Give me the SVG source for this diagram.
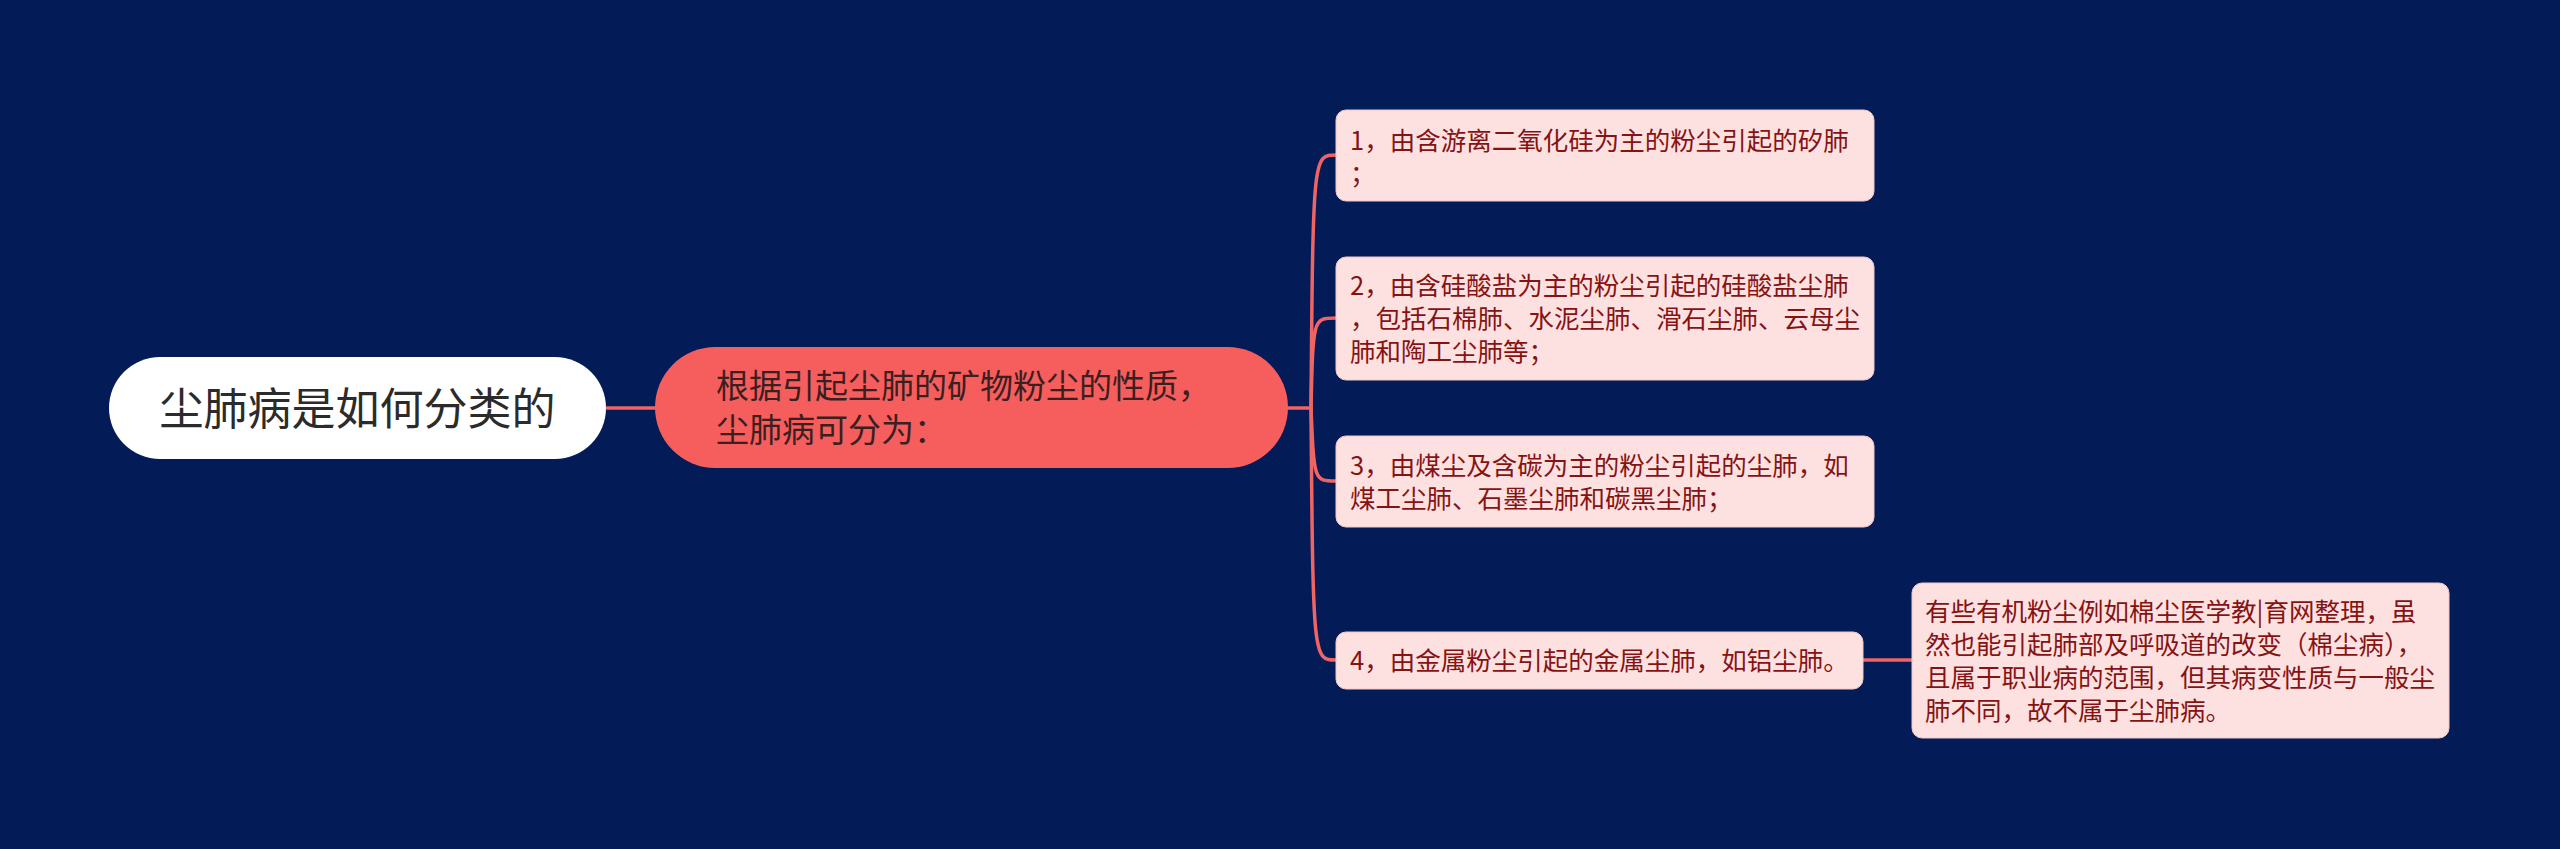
<svg xmlns="http://www.w3.org/2000/svg" width="2560" height="849" viewBox="0 0 2560 849">
<style>
text{font-family:"Noto Sans CJK SC","Noto Sans",sans-serif}
.root{fill:#ffffff}
.main{fill:#F65D5D}
.leaf{fill:#FDE1E1;stroke:#F2C8C8;stroke-width:1}
.rt{font-size:44px;fill:#2b2b2b}
.mt{font-size:33px;fill:#3a2020}
.lt{font-size:25.5px;fill:#861313}
.conn{fill:none;stroke:#F06464;stroke-width:3.5;stroke-linecap:round}
</style>
<rect width="2560" height="849" fill="#031B57"/>
<g id="connectors">
<path class="conn" d="M607 408 L655 408"/>
<path class="conn" d="M1288 408 L1311 408"/>
<path class="conn" d="M1311 408 C1313 155,1313 155,1336 155"/>
<path class="conn" d="M1311 408 C1313 318,1313 318,1336 318"/>
<path class="conn" d="M1311 408 C1314 481,1314 481,1336 481"/>
<path class="conn" d="M1311 408 C1313 660,1313 660,1336 660"/>
<path class="conn" d="M1863 660 L1912 660"/>
</g>
<g id="node-root">
<rect class="root" x="109" y="357" width="497" height="102" rx="51"/>
<text class="rt" x="357.5" y="425" text-anchor="middle">尘肺病是如何分类的</text>
</g>
<g id="node-main">
<rect class="main" x="655" y="347" width="633" height="121" rx="60.5"/>
<text class="mt" x="716" y="398">根据引起尘肺的矿物粉尘的性质，</text>
<text class="mt" x="716" y="442">尘肺病可分为：</text>
</g>
<g id="node-c1">
<rect class="leaf" x="1336" y="110" width="538" height="91" rx="10"/>
<text class="lt" x="1350" y="150">1，由含游离二氧化硅为主的粉尘引起的矽肺</text>
<text class="lt" x="1350" y="183">；</text>
</g>
<g id="node-c2">
<rect class="leaf" x="1336" y="257" width="538" height="123" rx="10"/>
<text class="lt" x="1350" y="295">2，由含硅酸盐为主的粉尘引起的硅酸盐尘肺</text>
<text class="lt" x="1350" y="328">，包括石棉肺、水泥尘肺、滑石尘肺、云母尘</text>
<text class="lt" x="1350" y="361">肺和陶工尘肺等；</text>
</g>
<g id="node-c3">
<rect class="leaf" x="1336" y="436" width="538" height="91" rx="10"/>
<text class="lt" x="1350" y="475">3，由煤尘及含碳为主的粉尘引起的尘肺，如</text>
<text class="lt" x="1350" y="508">煤工尘肺、石墨尘肺和碳黑尘肺；</text>
</g>
<g id="node-c4">
<rect class="leaf" x="1336" y="632" width="527" height="57" rx="10"/>
<text class="lt" x="1350" y="670">4，由金属粉尘引起的金属尘肺，如铝尘肺。</text>
</g>
<g id="node-c4a">
<rect class="leaf" x="1912" y="583" width="537" height="155" rx="10"/>
<text class="lt" x="1925" y="621">有些有机粉尘例如棉尘医学教|育网整理，虽</text>
<text class="lt" x="1925" y="654">然也能引起肺部及呼吸道的改变（棉尘病），</text>
<text class="lt" x="1925" y="687">且属于职业病的范围，但其病变性质与一般尘</text>
<text class="lt" x="1925" y="720">肺不同，故不属于尘肺病。</text>
</g>
</svg>
